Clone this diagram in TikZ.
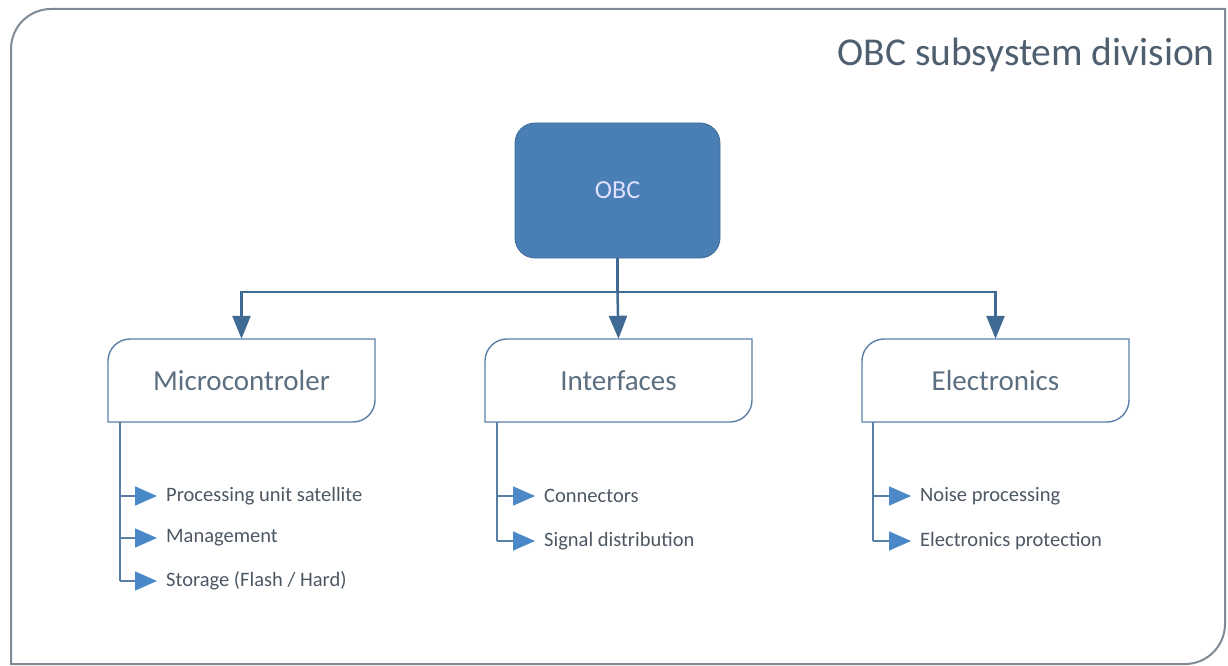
\documentclass[tikz,border=0pt]{standalone}
\usepackage{fontspec}
\setmainfont{Carlito}
\usetikzlibrary{arrows.meta}
\definecolor{frame}{HTML}{7F8A94}
\definecolor{obcfill}{HTML}{4A7FB6}
\definecolor{boxline}{HTML}{5A7FA6}
\definecolor{conn}{HTML}{3F6A94}
\definecolor{listarrow}{HTML}{4A88C8}
\definecolor{boxtext}{HTML}{5C6F80}
\definecolor{listtext}{HTML}{4C5763}
\definecolor{titletext}{HTML}{4E5F70}
\tikzset{
  conline/.style={draw=conn, line width=2.5pt, -{Triangle[length=23pt,width=18pt]}},
  listline/.style={draw=boxline, line width=1.6pt, -{Triangle[length=22pt,width=19pt,color=listarrow]}},
  item/.style={anchor=west, text=listtext, font=\fontsize{20.5}{24}\selectfont, inner sep=0pt},
  boxlabel/.style={text=boxtext, font=\fontsize{29}{33}\selectfont, inner sep=0pt},
}
\begin{document}
\begin{tikzpicture}[x=1pt,y=-1pt]
\useasboundingbox (0,0) rectangle (1228,666);
% outer frame: rounded top-left and bottom-right
\draw[frame, line width=2pt] (11,49) arc[start angle=180,end angle=270,radius=40] -- (1225,9) -- (1225,624) arc[start angle=0,end angle=90,radius=40] -- (11,664) -- cycle;
\node[anchor=east, text=titletext, font=\fontsize{39.5}{44}\selectfont, inner sep=0pt] (title) at (1215,55) {OBC subsystem division};
% OBC
\node[fill=obcfill, draw=obcfill!85!black, line width=0.8pt, rounded corners=20pt, minimum width=205pt, minimum height=135pt,
  text=white!88!blue, font=\fontsize{26}{30}\selectfont, inner sep=0pt] (obc) at (617.5,190.5) {OBC};
% sub boxes (rounded top-left and bottom-right)
\newcommand{\diagshape}[3]{%
  \draw[boxline, line width=1.4pt, fill=white] (#1,#2+22) arc[start angle=180,end angle=270,radius=22] -- (#1+267,#2) -- (#1+267,#2+61) arc[start angle=0,end angle=90,radius=22] -- (#1,#2+83) -- cycle;
  \node[inner sep=0pt, minimum width=267pt, minimum height=83pt] (#3) at (#1+133.5,#2+41.5) {};}
\diagshape{108}{339}{micro}
\diagshape{485}{339}{inter}
\diagshape{862}{339}{elec}
\node[boxlabel] (tmicro) at (micro.center) {Microcontroler};
\node[boxlabel] (tinter) at (inter.center) {Interfaces};
\node[boxlabel] (telec) at (elec.center) {Electronics};
% connectors
\coordinate (hub) at (617.5,292);
\draw[conn, line width=2.5pt] (obc.south) -- (hub);
\draw[conline] (hub) -| (micro.north);
\draw[conline] (hub) -- (inter.north);
\draw[conline] (hub) -| (elec.north);
% lists
\node[item] (m1) at (166,496) {Processing unit satellite};
\node[item] (m2) at (166,538) {Management};
\node[item] (m3) at (166,581) {Storage (Flash / Hard)};
\node[item] (i1) at (544,496) {Connectors};
\node[item] (i2) at (544,541) {Signal distribution};
\node[item] (e1) at (920,496) {Noise processing};
\node[item] (e2) at (920,541) {Electronics protection};
\coordinate (mtop) at (120,422);
\coordinate (itop) at (497,422);
\coordinate (etop) at (873,422);
\draw[boxline, line width=1.6pt] (mtop) -- (120,581);
\draw[boxline, line width=1.6pt] (itop) -- (497,541);
\draw[boxline, line width=1.6pt] (etop) -- (873,541);
\foreach \n in {m1,m2,m3} \draw[listline] (120,0 |- \n.west) -- ([xshift=-9pt]\n.west);
\foreach \n in {i1,i2} \draw[listline] (497,0 |- \n.west) -- ([xshift=-9pt]\n.west);
\foreach \n in {e1,e2} \draw[listline] (873,0 |- \n.west) -- ([xshift=-9pt]\n.west);
\end{tikzpicture}
\end{document}
